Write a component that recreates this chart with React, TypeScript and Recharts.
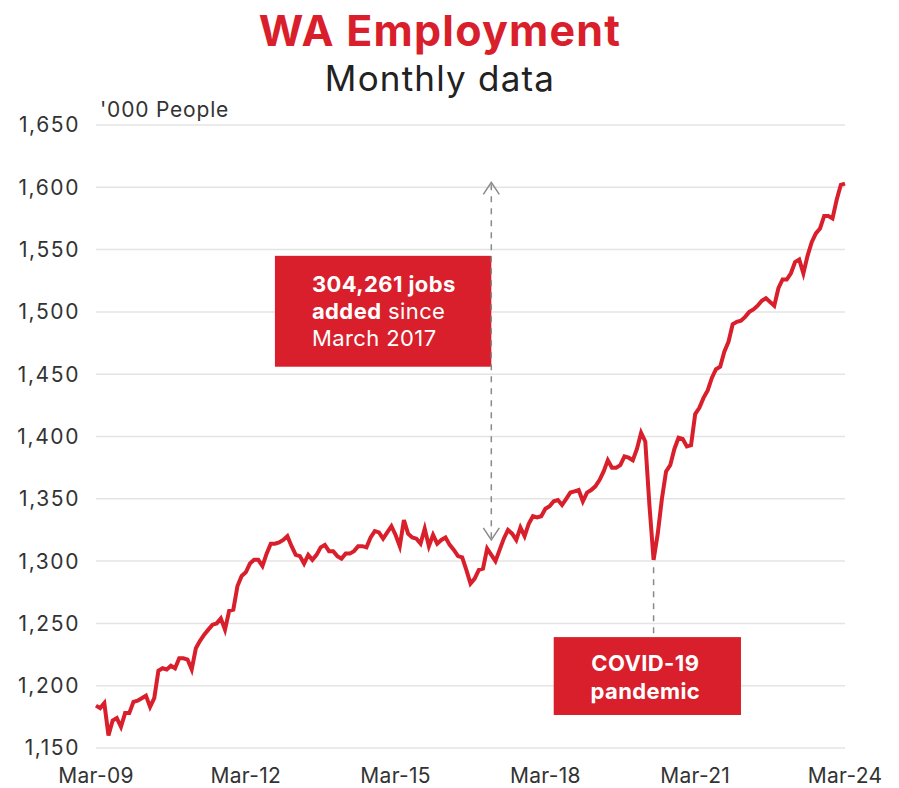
import React from "react"
import { CartesianGrid, Line, LineChart, ReferenceArea, ReferenceLine, XAxis, YAxis } from "recharts"

// WA employment, '000 people, monthly from Mar-09 to Mar-24
const employment2009to2012 = [
  1184, 1182, 1186, 1160, 1172, 1174, 1167, 1178, 1178, 1187, 1188, 1190, 1192, 1183, 1190, 1212,
  1214, 1213, 1216, 1214, 1222, 1222, 1221, 1213, 1230, 1236, 1241, 1245, 1249, 1250, 1254, 1245,
  1260, 1261, 1280, 1288, 1291,
]
const employment2012to2015 = [
  1298, 1301, 1301, 1296, 1306, 1314, 1314, 1315, 1317, 1320, 1312, 1305, 1304, 1298, 1305, 1301,
  1305, 1311, 1313, 1308, 1308, 1304, 1302, 1306, 1306, 1308, 1312, 1312, 1311, 1319, 1324, 1323,
  1318, 1323, 1328, 1321, 1312, 1333,
]
const employment2015to2018 = [
  1322, 1319, 1318, 1314, 1326, 1312, 1321, 1314, 1317, 1319, 1313, 1309, 1304, 1303, 1293, 1282,
  1286, 1293, 1294, 1310, 1305, 1300, 1309, 1318, 1325, 1322, 1317, 1327, 1320, 1330, 1336, 1335,
  1336, 1342, 1344, 1348,
]
const employment2018to2021 = [
  1349, 1345, 1350, 1355, 1356, 1357, 1348, 1355, 1357, 1360, 1365, 1372, 1381, 1375, 1375, 1377,
  1384, 1383, 1381, 1390, 1403, 1396, 1345, 1301, 1322, 1350, 1372, 1377, 1390, 1399, 1398, 1392,
  1393,
]
const employment2021to2024 = [
  1418, 1423, 1431, 1437, 1447, 1454, 1456, 1468, 1476, 1490, 1492, 1493, 1496, 1500, 1502, 1505,
  1509, 1511, 1508, 1505, 1519, 1526, 1526, 1531, 1540, 1542, 1531, 1545, 1556, 1563, 1567, 1577,
  1577, 1575, 1590, 1602, 1603,
]

const xTicks = ["Mar-09", "Mar-12", "Mar-15", "Mar-18", "Mar-21", "Mar-24"]
const yTicks = [1150, 1200, 1250, 1300, 1350, 1400, 1450, 1500, 1550, 1600, 1650]

const monthNames = ["Jan", "Feb", "Mar", "Apr", "May", "Jun", "Jul", "Aug", "Sep", "Oct", "Nov", "Dec"]

const employment = [
  ...employment2009to2012,
  ...employment2012to2015,
  ...employment2015to2018,
  ...employment2018to2021,
  ...employment2021to2024,
]

const monthLabel = (i: number) => {
  const m = 2 + i
  const yy = 9 + Math.floor(m / 12)
  return `${monthNames[m % 12]}-${String(yy).padStart(2, "0")}`
}

const data = employment.map((value, i) => ({ month: monthLabel(i), value }))

const RED = "#d91f2b"
const FONT = "Inter, 'Noto Sans', sans-serif"

const arrowShape = (props: any) => {
  const { x1, y1, x2, y2 } = props
  return (
    <g>
      <line x1={x1} y1={y1 + 2} x2={x2} y2={y2 - 2} stroke="#8a8a8a" strokeWidth={1.5} strokeDasharray="6 6" />
      <path d={`M${x1 - 8},${y1 + 12} L${x1},${y1} L${x1 + 8},${y1 + 12}`} fill="none" stroke="#8a8a8a" strokeWidth={1.5} />
      <path d={`M${x2 - 8},${y2 - 12} L${x2},${y2} L${x2 + 8},${y2 - 12}`} fill="none" stroke="#8a8a8a" strokeWidth={1.5} />
    </g>
  )
}

const dashedShape = (props: any) => {
  const { x1, y1, x2, y2 } = props
  return <line x1={x1} y1={y1} x2={x2} y2={y2} stroke="#8a8a8a" strokeWidth={1.5} strokeDasharray="6 6" />
}

const boxText = { fill: "#fff", fontSize: 22, fontFamily: FONT, letterSpacing: 0.4 }

const jobsBox = (props: any) => {
  const { x, y, width, height } = props
  return (
    <g>
      <rect x={x} y={y} width={width} height={height} fill={RED} />
      <text x={x + 37} y={y + 36} {...boxText}>
        <tspan fontWeight={700}>304,261 jobs</tspan>
      </text>
      <text x={x + 37} y={y + 63} {...boxText}>
        <tspan fontWeight={700}>added</tspan>
        <tspan> since</tspan>
      </text>
      <text x={x + 37} y={y + 90} {...boxText}>
        March 2017
      </text>
    </g>
  )
}

const covidBox = (props: any) => {
  const { x, y, width, height } = props
  const cx = x + width / 2
  return (
    <g>
      <rect x={x} y={y} width={width} height={height} fill={RED} />
      <text x={cx - 2} y={y + 34} {...boxText} fontWeight={700} textAnchor="middle">
        COVID-19
      </text>
      <text x={cx - 2} y={y + 62} {...boxText} fontWeight={700} textAnchor="middle">
        pandemic
      </text>
    </g>
  )
}

export default function App() {
  return (
    <div style={{ position: "absolute", left: 0, top: 0, width: 899, height: 788, background: "#fff", fontFamily: FONT }}>
      <div style={{ position: "absolute", left: 0, width: 880, top: 4, textAlign: "center", color: RED, fontSize: 43, fontWeight: 700, letterSpacing: 1.2 }}>
        WA Employment
      </div>
      <div style={{ position: "absolute", left: 0, width: 880, top: 57, textAlign: "center", color: "#222", fontSize: 35, letterSpacing: 1.2 }}>
        Monthly data
      </div>
      <div style={{ position: "absolute", left: 100, top: 97, color: "#333", fontSize: 21, letterSpacing: 0.8 }}>'000 People</div>
      <LineChart width={899} height={788} data={data} margin={{ top: 125, right: 54, bottom: 0, left: 0 }}>
        <CartesianGrid vertical={false} stroke="#e4e4e4" strokeWidth={1.5} />
        <XAxis
          dataKey="month"
          ticks={xTicks}
          interval={0}
          axisLine={false}
          tickLine={false}
          tickSize={0}
          tickMargin={20}
          height={40}
          tick={{ fontSize: 21, fill: "#333", fontFamily: FONT, letterSpacing: 0.3 }}
        />
        <YAxis
          domain={[1150, 1650]}
          ticks={yTicks}
          width={96}
          axisLine={false}
          tickLine={false}
          tickSize={0}
          tickMargin={16}
          tickFormatter={(v: number) => v.toLocaleString("en-US")}
          tick={{ fontSize: 21, fill: "#333", fontFamily: FONT, letterSpacing: 1.6 }}
        />
        <ReferenceLine
          segment={[{ x: "May-20", y: 1295 }, { x: "May-20", y: 1239 }]}
          shape={dashedShape}
        />
        <ReferenceLine
          segment={[{ x: "Feb-17", y: 1604 }, { x: "Feb-17", y: 1317 }]}
          shape={arrowShape}
        />
        <ReferenceArea x1="Oct-12" x2="Feb-17" y1={1456} y2={1545} shape={jobsBox} />
        <ReferenceArea x1="May-18" x2="Feb-22" y1={1176.5} y2={1239} shape={covidBox} />
        <Line
          type="linear"
          dataKey="value"
          stroke={RED}
          strokeWidth={4}
          dot={false}
          isAnimationActive={false}
        />
      </LineChart>
    </div>
  )
}
